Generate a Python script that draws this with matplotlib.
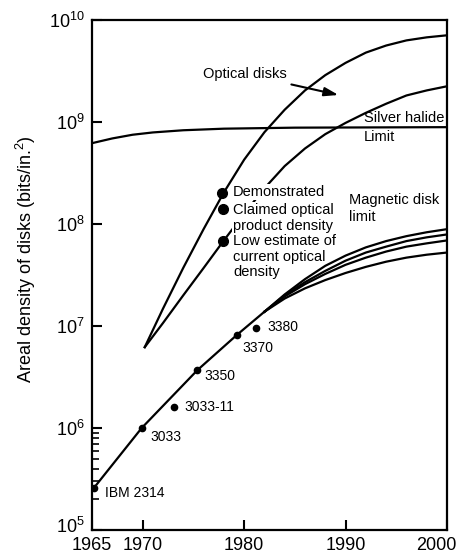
import numpy as np
import matplotlib
matplotlib.use('Agg')
import matplotlib.pyplot as pl
from matplotlib import transforms

pl.rcParams['font.family'] = ['Liberation Sans', 'DejaVu Sans']
pl.rcParams['mathtext.fontset'] = 'custom'
pl.rcParams['mathtext.rm'] = 'Liberation Sans'
pl.rcParams['mathtext.it'] = 'Liberation Sans'

# silver halide limit
silver_years = [1965, 1967, 1969, 1971, 1974, 1978, 1985, 2000]
silver_density = [6.2e8, 6.9e8, 7.5e8, 7.9e8, 8.3e8, 8.6e8, 8.8e8, 8.9e8]

# optical disks envelope (upper and lower bound)
optical_years = [1970.2, 1972, 1974, 1976, 1978, 1980, 1982, 1984, 1986,
                 1988, 1990, 1992, 1994, 1996, 1998, 2000]
optical_hi = [6.2e6, 1.48e7, 3.72e7, 8.9e7, 2.04e8, 4.27e8, 7.94e8, 1.32e9,
              2.04e9, 2.88e9, 3.8e9, 4.79e9, 5.62e9, 6.31e9, 6.76e9, 7.08e9]
optical_lo = [6.2e6, 1.07e7, 2.0e7, 3.7e7, 6.9e7, 1.26e8, 2.24e8, 3.7e8,
              5.5e8, 7.6e8, 9.8e8, 1.23e9, 1.51e9, 1.82e9, 2.04e9, 2.24e9]

# optical data points
optical_pts_years = [1977.8, 1977.9, 1977.9]
optical_pts = [2.0e8, 1.4e8, 6.8e7]
optical_pts_labels = ['Demonstrated', 'Claimed optical\nproduct density',
                      'Low estimate of\ncurrent optical\ndensity']

# magnetic disk trend and limits
magnetic_years = [1965, 1969.9, 1975.4, 1979.3, 1982]
magnetic_density = [2.45e5, 1.0e6, 3.7e6, 8.2e6, 1.38e7]
limit_years = [1982, 1984, 1986, 1988, 1990, 1992, 1994, 1996, 1998, 2000]
magnetic_limits = [
    [1.38e7, 2.04e7, 2.88e7, 3.89e7, 4.9e7, 5.9e7, 6.8e7, 7.6e7, 8.3e7, 8.9e7],
    [1.38e7, 2.0e7, 2.69e7, 3.47e7, 4.37e7, 5.25e7, 6.0e7, 6.8e7, 7.4e7, 7.9e7],
    [1.38e7, 1.95e7, 2.57e7, 3.24e7, 3.98e7, 4.68e7, 5.37e7, 6.0e7, 6.46e7, 6.9e7],
    [1.38e7, 1.86e7, 2.34e7, 2.82e7, 3.31e7, 3.8e7, 4.27e7, 4.68e7, 5.0e7, 5.25e7],
]

# IBM drives
drive_names = ['IBM 2314', '3033', '3033-11', '3350', '3370', '3380']
drive_years = [1965.2, 1969.9, 1973.1, 1975.4, 1979.3, 1981.2]
drive_density = [2.6e5, 1.0e6, 1.6e6, 3.7e6, 8.2e6, 9.6e6]
drive_label_pos = [(1966.3, 2.3e5), (1970.8, 8.2e5), (1974.1, 1.6e6),
                   (1976.1, 3.24e6), (1979.8, 6.1e6), (1982.3, 9.8e6)]

fig = pl.figure(figsize=(4.57, 5.53), dpi=100)
ax = fig.add_axes([92 / 457, 1 - 530 / 553, 355 / 457, 510 / 553])

lw = 1.6
ax.plot(silver_years, silver_density, c='k', lw=lw)
ax.plot(optical_years, optical_hi, c='k', lw=lw)
ax.plot(optical_years, optical_lo, c='k', lw=lw)
ax.plot(magnetic_years, magnetic_density, c='k', lw=lw)
for lim in magnetic_limits:
    ax.plot(limit_years, lim, c='k', lw=lw, zorder=3.5)

ax.plot(optical_pts_years, optical_pts, 'o', c='k', ms=7, zorder=4)
ax.plot(drive_years, drive_density, 'o', c='k', ms=4.5, zorder=4)

# labels of the optical points sit on white so the lower bound is hidden
box = dict(fc='white', ec='none', pad=0.5)
txt = dict(fontsize=10.5, ha='left', va='center', linespacing=1.15)
opt_text_pos = [(1978.9, 2.06e8), (1978.9, 1.15e8), (1978.9, 4.8e7)]
for (x, y), s in zip(opt_text_pos, optical_pts_labels):
    ax.text(x, y, s, bbox=box, zorder=3, **txt)

for (x, y), s in zip(drive_label_pos, drive_names):
    ax.text(x, y, s, fontsize=10, ha='left', va='center')

ax.text(1991.8, 1.1e9, 'Silver halide', **txt)
ax.text(1991.8, 7.1e8, 'Limit', **txt)
ax.text(1990.3, 1.42e8, 'Magnetic disk\nlimit', fontsize=10.5, ha='left',
        va='center', linespacing=1.2)
ax.annotate('Optical disks', xy=(1989.3, 1.84e9), xytext=(1975.95, 2.95e9),
            fontsize=10.5, ha='left', va='center',
            arrowprops=dict(arrowstyle='-|>,head_length=0.8,head_width=0.25',
                            color='k', lw=1.5, shrinkA=2, shrinkB=0))

ax.set_yscale('log')
ax.set_xlim(1965, 2000)
ax.set_ylim(1e5, 1e10)
ax.set_xticks([1965, 1970, 1980, 1990, 2000])
ax.set_xticklabels(['1965', '1970', '1980', '1990', '2000'], fontsize=13)
ax.set_yticks([10.0 ** k for k in range(5, 11)])
ax.set_yticklabels([r'$\mathregular{10^{%d}}$' % k for k in range(5, 11)], fontsize=13)
ax.set_yticks([k * 1e5 for k in range(2, 10)], minor=True)
ax.set_yticklabels([], minor=True)
ax.xaxis.set_minor_locator(matplotlib.ticker.NullLocator())
ax.tick_params(which='major', direction='in', length=7, width=1.5, pad=5)
ax.tick_params(which='minor', direction='in', length=5, width=1.2)
ax.tick_params(axis='y', which='both', right=False)
ax.tick_params(axis='x', top=False)
for sp in ax.spines.values():
    sp.set_linewidth(1.6)

# nudge the corner labels so they stay clear of each other and the edge
last = ax.get_xticklabels()[-1]
last.set_horizontalalignment('right')
last.set_transform(last.get_transform() +
                   transforms.ScaledTranslation(9 / 100, 0, fig.dpi_scale_trans))
first = ax.get_yticklabels()[0]
first.set_transform(first.get_transform() +
                    transforms.ScaledTranslation(0, 5 / 100, fig.dpi_scale_trans))

fig.text(26 / 457, 1 - 259 / 553, r'Areal density of disks (bits/in.$^2$)',
         rotation=90, ha='center', va='center', fontsize=13)

fig.savefig('out.png', dpi=100)
